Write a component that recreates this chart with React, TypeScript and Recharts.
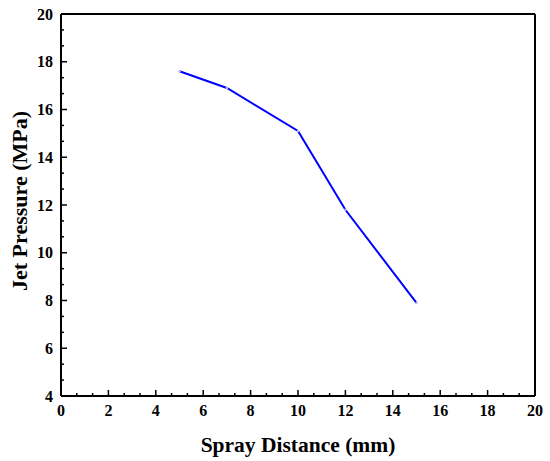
import React from 'react';
import { LineChart, Line, XAxis, YAxis, ReferenceLine } from 'recharts';

const sprayDistance = [5, 7, 10, 12, 15];
const jetPressure = [17.6, 16.9, 15.1, 11.8, 7.9];
const xMajorTicks = [0, 2, 4, 6, 8, 10, 12, 14, 16, 18, 20];
const yMajorTicks = [4, 6, 8, 10, 12, 14, 16, 18, 20];

const data = sprayDistance.map((d, i) => ({ d, p: jetPressure[i] }));

const withMinor = (major: number[]) => {
  const out: number[] = [];
  for (let i = 0; i < major.length; i++) {
    out.push(major[i]);
    if (i < major.length - 1) {
      const step = (major[i + 1] - major[i]) / 3;
      out.push(major[i] + step, major[i] + 2 * step);
    }
  }
  return out;
};

const xTicks = withMinor(xMajorTicks);
const yTicks = withMinor(yMajorTicks);

const isMajor = (v: number, major: number[]) => major.some((m) => Math.abs(m - v) < 1e-6);

const FONT = '"Liberation Serif", "Times New Roman", serif';

const XTick = (props: any) => {
  const { x, y, payload } = props;
  const v = payload.value;
  const major = isMajor(v, xMajorTicks);
  const len = major ? 6 : 3;
  return (
    <g>
      <line x1={x} y1={y} x2={x} y2={y - len} stroke="#000" strokeWidth={1.5} />
      {major && (
        <text x={x} y={y + 20} textAnchor="middle" fontFamily={FONT} fontWeight="bold" fontSize={16} fill="#000">
          {Math.round(v)}
        </text>
      )}
    </g>
  );
};

const YTick = (props: any) => {
  const { x, y, payload } = props;
  const v = payload.value;
  const major = isMajor(v, yMajorTicks);
  const len = major ? 6 : 3;
  return (
    <g>
      <line x1={x} y1={y} x2={x + len} y2={y} stroke="#000" strokeWidth={1.5} />
      {major && (
        <text x={x - 8} y={y + 5.5} textAnchor="end" fontFamily={FONT} fontWeight="bold" fontSize={16} fill="#000">
          {Math.round(v)}
        </text>
      )}
    </g>
  );
};

const XTitle = (props: any) => {
  const vb = props.viewBox;
  return (
    <text x={vb.x + vb.width / 2} y={452} textAnchor="middle" fontFamily={FONT} fontWeight="bold" fontSize={21.5} fill="#000">
      Spray Distance (mm)
    </text>
  );
};

const YTitle = (props: any) => {
  const vb = props.viewBox;
  const cy = vb.y + vb.height / 2 - 4;
  const cx = 27;
  return (
    <text x={cx} y={cy} transform={`rotate(-90, ${cx}, ${cy})`} textAnchor="middle" fontFamily={FONT} fontWeight="bold" fontSize={22} fill="#000">
      Jet Pressure (MPa)
    </text>
  );
};

export default function App() {
  return (
    <div style={{ position: 'absolute', left: 0, top: 0, width: 550, height: 461, background: '#fff' }}>
      <LineChart width={550} height={461} data={data} margin={{ top: 14, right: 15, bottom: 5, left: 0 }}>
        <XAxis
          dataKey="d"
          type="number"
          domain={[0, 20]}
          ticks={xTicks}
          interval={0}
          tickSize={0}
          tickMargin={0}
          height={60}
          axisLine={{ stroke: '#000', strokeWidth: 2 }}
          tickLine={false}
          tick={<XTick />}
          label={<XTitle />}
        />
        <YAxis
          type="number"
          domain={[4, 20]}
          ticks={yTicks}
          interval={0}
          tickSize={0}
          tickMargin={0}
          width={61}
          axisLine={{ stroke: '#000', strokeWidth: 2 }}
          tickLine={false}
          tick={<YTick />}
          label={<YTitle />}
        />
        <ReferenceLine y={20} stroke="#000" strokeWidth={2} />
        <ReferenceLine x={20} stroke="#000" strokeWidth={2} />
        <Line
          type="linear"
          dataKey="p"
          stroke="#0000ff"
          strokeWidth={2}
          dot={{ r: 1.2, fill: '#b8b8ff', stroke: 'none' }}
          isAnimationActive={false}
        />
      </LineChart>
    </div>
  );
}
